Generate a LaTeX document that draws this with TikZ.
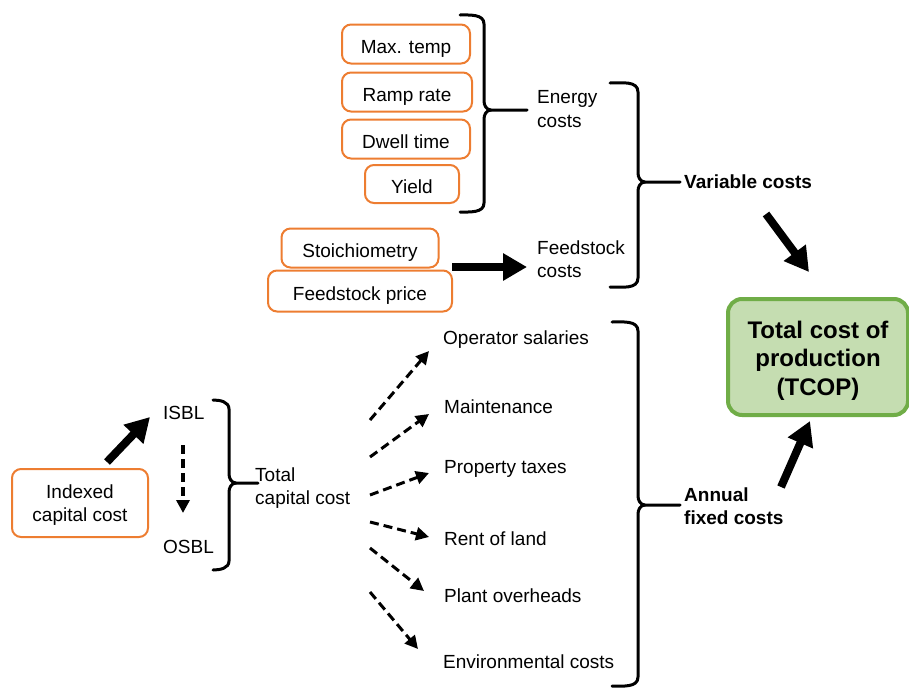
\documentclass[tikz,border=0pt]{standalone}
\usepackage{fontspec}
\setmainfont{Liberation Sans}
\usetikzlibrary{arrows.meta}
\definecolor{boxorange}{HTML}{ED7D31}
\definecolor{boxgreen}{HTML}{70AD47}
\definecolor{fillgreen}{HTML}{C5DDB1}
\newcommand{\mybrace}[6]{%
  \draw[brc] (#1,#3) to[out=0,in=90] (#2,#3+9) -- (#2,#5-9) to[out=-90,in=180] (#2+7,#5) -- (#6,#5);
  \draw[brc] (#2+7,#5) to[out=180,in=90] (#2,#5+9) -- (#2,#4-9) to[out=-90,in=0] (#1,#4);}
\tikzset{
  obox/.style={draw=boxorange,line width=2pt,rounded corners=9pt,inner sep=0pt,font=\fontsize{19}{23.5}\selectfont,align=center},
  oline/.style={obox,text height=18pt,text depth=0pt},
  txt/.style={inner sep=0pt,anchor=west,font=\fontsize{19}{23.5}\selectfont,align=left},
  ctxt/.style={inner sep=0pt,align=center},
  btxt/.style={txt,font=\fontsize{19}{23.5}\selectfont\bfseries},
  brc/.style={line width=3pt,line cap=round,line join=round},
  bigarrow/.style={line width=8pt,-{Triangle[width=26pt,length=24pt]}},
  dasharrow/.style={line width=3pt,dash pattern=on 9pt off 5pt,-{Triangle[width=13pt,length=13pt]}},
}
\begin{document}
\begin{tikzpicture}[x=1pt,y=-1pt]
\useasboundingbox (0,0) rectangle (909,688);
% orange input boxes
\node[oline,minimum width=128pt,minimum height=39pt] (maxt) at (406,44) {Max. temp};
\node[oline,minimum width=130pt,minimum height=39pt] (ramp) at (407,92) {Ramp rate};
\node[oline,minimum width=128pt,minimum height=39pt] (dwell) at (406,139) {Dwell time};
\node[oline,minimum width=94pt,minimum height=38pt] (yield) at (412,184) {Yield};
\node[oline,minimum width=157pt,minimum height=39pt] (stoich) at (360,248) {Stoichiometry};
\node[oline,minimum width=184pt,minimum height=41pt] (fprice) at (360,291) {Feedstock price};
\node[obox,minimum width=136pt,minimum height=68pt] (index) at (80,503) {};
\node[ctxt,font=\fontsize{19}{23.5}\selectfont] (indexl) at (80,505) {Indexed\\capital cost};
% text nodes
\node[txt] (energy) at (537,109) {Energy\\costs};
\node[txt] (feed) at (537,259) {Feedstock\\costs};
\node[btxt] (var) at (684,182) {Variable costs};
\node[btxt] (annual) at (684,506) {Annual\\fixed costs};
\node[txt] (isbl) at (163,413) {ISBL};
\node[txt] (osbl) at (163,547) {OSBL};
\node[txt] (tcc) at (255,488) {Total\\capital cost};
\node[txt] (op) at (443,340) {Operator salaries};
\node[txt] (maint) at (444,407) {Maintenance};
\node[txt] (prop) at (444,469) {Property taxes};
\node[txt] (rent) at (444,539) {Rent of land};
\node[txt] (plant) at (444,596) {Plant overheads};
\node[txt] (env) at (443,662) {Environmental costs};
% TCOP
\node[draw=boxgreen,fill=fillgreen,line width=4pt,rounded corners=14pt,minimum width=180pt,minimum height=116pt,inner sep=0pt] (tcop) at (818,357) {};
\node[ctxt,font=\fontsize{24}{28.5}\selectfont\bfseries] (tcopl) at (818,360.5) {Total cost of\\production\\(TCOP)};
% braces
\mybrace{460}{484}{15}{212}{110}{527}
\mybrace{610}{638}{83}{287}{182}{680}
\mybrace{612}{638}{322}{686}{505}{680}
\mybrace{213}{229}{400}{570}{483}{258}
% solid arrows
\coordinate (fa) at (452,267);
\coordinate (fb) at (527,267);
\draw[bigarrow] (fa) -- (fb);
\coordinate (va) at (766,214);
\coordinate (vb) at (809,272);
\draw[bigarrow] (va) -- (vb);
\coordinate (aa) at (781,487);
\coordinate (ab) at (810,421);
\draw[bigarrow] (aa) -- (ab);
\coordinate (ia) at (107,462);
\coordinate (ib) at (150,417);
\draw[bigarrow] (ia) -- (ib);
% dashed arrows
\coordinate (so) at (183,445);
\coordinate (eo) at (183,513);
\draw[dasharrow,line width=3.5pt] (so) -- (eo);
\coordinate (d1a) at (370,420); \coordinate (d1b) at (429,351);
\coordinate (d2a) at (370,457); \coordinate (d2b) at (429,414);
\coordinate (d3a) at (370,495); \coordinate (d3b) at (429,473);
\coordinate (d4a) at (370,522); \coordinate (d4b) at (429,537);
\coordinate (d5a) at (370,548); \coordinate (d5b) at (424,591);
\coordinate (d6a) at (370,592); \coordinate (d6b) at (418,649);
\draw[dasharrow] (d1a) -- (d1b);
\draw[dasharrow] (d2a) -- (d2b);
\draw[dasharrow] (d3a) -- (d3b);
\draw[dasharrow] (d4a) -- (d4b);
\draw[dasharrow] (d5a) -- (d5b);
\draw[dasharrow] (d6a) -- (d6b);
\end{tikzpicture}
\end{document}
